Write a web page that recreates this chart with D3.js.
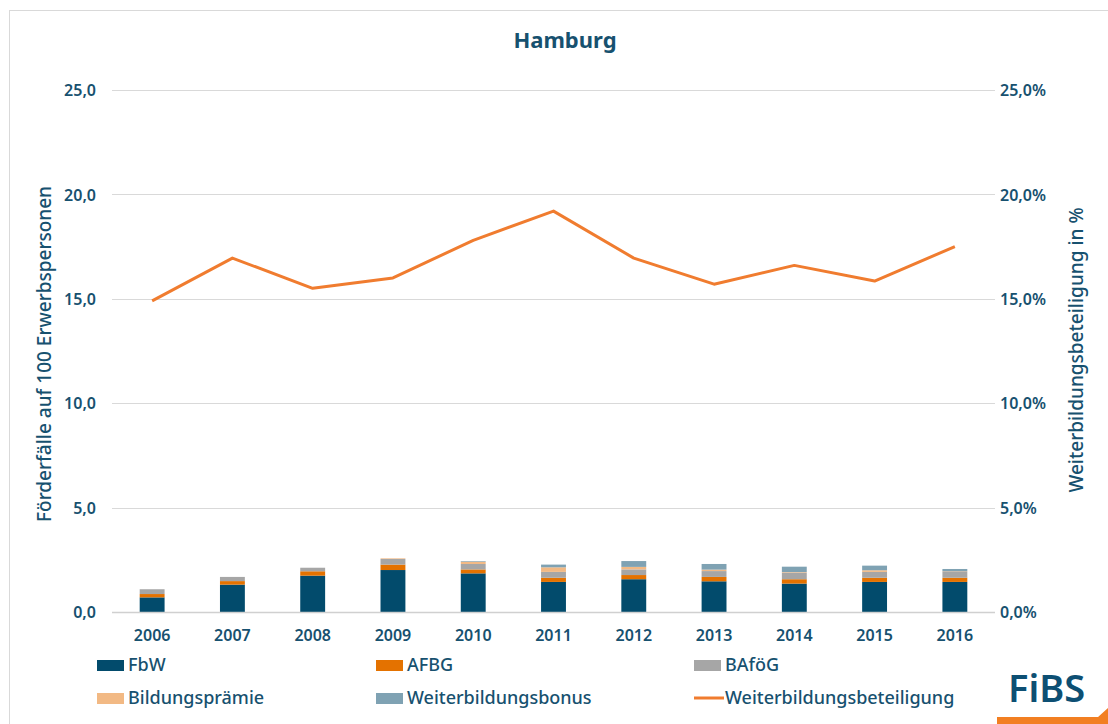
<!DOCTYPE html>
<html>
<head>
<meta charset="utf-8">
<script src="https://cdn.jsdelivr.net/npm/d3@7"></script>
<style>
body { margin: 0; background: #fff; }
text { font-family: "Noto Sans", sans-serif; }
</style>
</head>
<body>
<div id="chart"></div>
<script>
var years = ["2006", "2007", "2008", "2009", "2010", "2011", "2012", "2013", "2014", "2015", "2016"];
var fbw = [0.70, 1.31, 1.74, 2.01, 1.85, 1.44, 1.57, 1.47, 1.36, 1.44, 1.44];
var afbg = [0.16, 0.17, 0.21, 0.26, 0.19, 0.20, 0.20, 0.21, 0.21, 0.20, 0.20];
var bafoeg = [0.23, 0.20, 0.17, 0.27, 0.26, 0.28, 0.27, 0.28, 0.31, 0.28, 0.31];
var praemie = [0.00, 0.00, 0.00, 0.03, 0.11, 0.22, 0.12, 0.07, 0.03, 0.08, 0.01];
var bonus = [0.00, 0.00, 0.00, 0.00, 0.03, 0.13, 0.28, 0.27, 0.26, 0.22, 0.10];
var beteiligung = [14.9, 16.95, 15.5, 16.0, 17.8, 19.2, 16.95, 15.7, 16.6, 15.85, 17.5];
var leftTicks = [0, 5, 10, 15, 20, 25];

var seriesNames = ["FbW", "AFBG", "BAföG", "Bildungsprämie", "Weiterbildungsbonus"];
var seriesColors = ["#024b6c", "#e47200", "#a6a6a6", "#f2b984", "#7fa2b3"];
var lineColor = "#f07c2f";
var textColor = "#17516f";

var width = 1108, height = 724;
var svg = d3.select("#chart").append("svg").attr("width", width).attr("height", height);

// frame
svg.append("rect").attr("x", 9.5).attr("y", 10.5).attr("width", 1200).attr("height", 800)
  .style("fill", "none").style("stroke", "#d9d9d9").style("stroke-width", 1);

var x = d3.scaleBand().domain(years).range([112, 995]).paddingInner(0.69).paddingOuter(0.345);
var y = d3.scaleLinear().domain([0, 25]).range([612, 90]);
var y2 = d3.scaleLinear().domain([0, 25]).range([612, 90]);

// gridlines
svg.append("g").selectAll("line").data(leftTicks.slice(1)).enter().append("line")
  .attr("x1", 112).attr("x2", 995)
  .attr("y1", function(d){ return Math.round(y(d)) + 0.5; })
  .attr("y2", function(d){ return Math.round(y(d)) + 0.5; })
  .style("stroke", "#d9d9d9").style("stroke-width", 1);

// stacked bars
var rows = years.map(function(yr, i){
  return {year: yr, FbW: fbw[i], AFBG: afbg[i], "BAföG": bafoeg[i], "Bildungsprämie": praemie[i], Weiterbildungsbonus: bonus[i]};
});
var stacked = d3.stack().keys(seriesNames)(rows);
svg.append("g").selectAll("g").data(stacked).enter().append("g")
  .style("fill", function(d, i){ return seriesColors[i]; })
  .selectAll("rect").data(function(d){ return d; }).enter().append("rect")
  .attr("x", function(d){ return x(d.data.year); })
  .attr("width", x.bandwidth())
  .attr("y", function(d){ return y(d[1]); })
  .attr("height", function(d){ return Math.max(0, y(d[0]) - y(d[1])); });

// baseline
svg.append("line").attr("x1", 112).attr("x2", 995).attr("y1", 612.5).attr("y2", 612.5)
  .style("stroke", "#d0d0d0").style("stroke-width", 1.5);

// line
var line = d3.line()
  .x(function(d, i){ return x(years[i]) + x.bandwidth() / 2; })
  .y(function(d){ return y2(d); });
svg.append("path").datum(beteiligung).attr("d", line)
  .style("fill", "none").style("stroke", lineColor).style("stroke-width", 3).style("stroke-linejoin", "round");

// left axis
var fmtL = function(d){ return d3.format(".1f")(d).replace(".", ","); };
var leftAxis = svg.append("g").attr("transform", "translate(96,0)")
  .call(d3.axisLeft(y).tickValues(leftTicks).tickSize(0).tickFormat(fmtL));
leftAxis.select(".domain").remove();
leftAxis.selectAll("text").attr("x", 0).attr("dy", "0.35em")
  .style("font-size", "16px").style("font-weight", "600").style("fill", textColor).style("font-family", "'Noto Sans', sans-serif");

// right axis
var fmtR = function(d){ return d3.format(".1f")(d).replace(".", ",") + "%"; };
var rightAxis = svg.append("g").attr("transform", "translate(1000,0)")
  .call(d3.axisRight(y2).tickValues(leftTicks).tickSize(0).tickFormat(fmtR));
rightAxis.select(".domain").remove();
rightAxis.selectAll("text").attr("x", 0).attr("dy", "0.35em")
  .style("font-size", "16px").style("font-weight", "600").style("fill", textColor).style("font-family", "'Noto Sans', sans-serif");

// x axis
var xAxis = svg.append("g").attr("transform", "translate(0,612)")
  .call(d3.axisBottom(x).tickSize(0));
xAxis.select(".domain").remove();
xAxis.selectAll("text").attr("y", 18)
  .style("font-size", "16px").style("font-weight", "600").style("fill", textColor).style("font-family", "'Noto Sans', sans-serif");

// titles
svg.append("text").attr("x", 565).attr("y", 48).attr("text-anchor", "middle")
  .style("font-size", "22px").style("font-weight", "bold").style("fill", textColor).text("Hamburg");
svg.append("text").attr("transform", "translate(51,354) rotate(-90)").attr("text-anchor", "middle")
  .style("font-size", "19px").style("font-weight", "500").style("fill", textColor).text("Förderfälle auf 100 Erwerbspersonen");
svg.append("text").attr("transform", "translate(1083,350) rotate(-90)").attr("text-anchor", "middle")
  .style("font-size", "19px").style("font-weight", "500").style("fill", textColor).text("Weiterbildungsbeteiligung in %");

// legend
var legendItems = [
  {name: "FbW", color: seriesColors[0], type: "rect", lx: 97, ly: 665},
  {name: "AFBG", color: seriesColors[1], type: "rect", lx: 376, ly: 665},
  {name: "BAföG", color: seriesColors[2], type: "rect", lx: 694, ly: 665},
  {name: "Bildungsprämie", color: seriesColors[3], type: "rect", lx: 97, ly: 698},
  {name: "Weiterbildungsbonus", color: seriesColors[4], type: "rect", lx: 376, ly: 698},
  {name: "Weiterbildungsbeteiligung", color: lineColor, type: "line", lx: 694, ly: 698}
];
var lg = svg.append("g").selectAll("g").data(legendItems).enter().append("g")
  .attr("transform", function(d){ return "translate(" + d.lx + "," + d.ly + ")"; });
lg.filter(function(d){ return d.type === "rect"; }).append("rect")
  .attr("x", 0).attr("y", -5).attr("width", 27).attr("height", 11).style("fill", function(d){ return d.color; });
lg.filter(function(d){ return d.type === "line"; }).append("line")
  .attr("x1", 0).attr("x2", 30).attr("y1", 0).attr("y2", 0).style("stroke", function(d){ return d.color; }).style("stroke-width", 3);
lg.append("text").attr("x", 31).attr("y", 0).attr("dy", "0.36em")
  .style("font-size", "18px").style("font-weight", "500").style("fill", textColor).text(function(d){ return d.name; });

// logo
svg.append("text").attr("x", 1008).attr("y", 702)
  .style("font-size", "38px").style("font-weight", "600").style("fill", "#0d4f73").text("FiBS");
svg.append("polygon").attr("points", "997,717 1098,717 1108,708 1108,724 997,724").style("fill", "#f27f22");
</script>
</body>
</html>
